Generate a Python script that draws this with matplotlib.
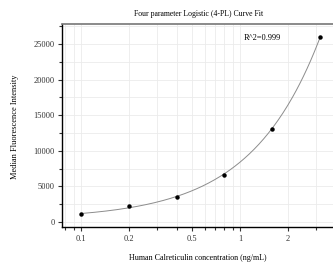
import numpy as np
import matplotlib
matplotlib.use("Agg")
import matplotlib.pyplot as plt
from matplotlib.ticker import FixedLocator, NullFormatter, FixedFormatter

plt.rcParams['font.family'] = ['Liberation Serif', 'DejaVu Serif']

conc = [0.1, 0.2, 0.4, 0.8, 1.6, 3.2]
mfi = [1120, 2250, 3500, 6600, 13100, 26000]

# 4-PL parameters
A_MIN = 400.0
B_SLOPE = 1.0
C_EC50 = 5000.0
D_MAX = 40000400.0

x_major = [0.1, 0.2, 0.5, 1, 2]
x_major_labels = ["0.1", "0.2", "0.5", "1", "2"]
x_minor = [0.08, 0.09, 0.3, 0.4, 0.6, 0.7, 0.8, 0.9, 3]
y_major = [0, 5000, 10000, 15000, 20000, 25000]
y_minor = [2500, 7500, 12500, 17500, 22500, 27500]

fig = plt.figure(figsize=(3.33, 2.70), dpi=100)
ax = fig.add_axes([0.186, 0.159, 0.814, 0.752])

xs = np.logspace(np.log10(conc[0]), np.log10(conc[-1]), 200)
ys = D_MAX + (A_MIN - D_MAX) / (1 + (xs / C_EC50) ** B_SLOPE)
ax.plot(xs, ys, color="#8c8c8c", lw=0.7, zorder=2)
ax.plot(conc, mfi, "o", color="black", ms=2.2, zorder=3)

ax.set_xscale("log")
ax.set_xlim(0.076, 3.85)
ax.set_ylim(-700, 27800)

ax.xaxis.set_major_locator(FixedLocator(x_major))
ax.xaxis.set_major_formatter(FixedFormatter(x_major_labels))
ax.xaxis.set_minor_locator(FixedLocator(x_minor))
ax.xaxis.set_minor_formatter(NullFormatter())
ax.yaxis.set_major_locator(FixedLocator(y_major))
ax.yaxis.set_minor_locator(FixedLocator(y_minor))

ax.grid(True, which="both", color="#ebebeb", lw=0.6, zorder=0)
ax.set_axisbelow(True)

ax.tick_params(which="both", direction="out", labelsize=6, width=0.8,
               color="#333333", labelcolor="#333333")
ax.tick_params(which="major", length=3, pad=2)
ax.tick_params(which="minor", length=2.5)
ax.tick_params(axis="x", which="major", pad=3)

for s in ["left", "bottom"]:
    ax.spines[s].set_color("black")
    ax.spines[s].set_linewidth(1.0)
ax.spines["top"].set_color("#777777")
ax.spines["top"].set_linewidth(1.2)
ax.spines["right"].set_visible(False)

ax.text(1.06, 25840, "R^2=0.999", fontsize=6, va="center", ha="left")

fig.text(0.595, 0.948, "Four parameter Logistic (4-PL) Curve Fit", fontsize=5.6, ha="center", va="center")
fig.text(0.595, 0.045, "Human Calreticulin concentration (ng/mL)", fontsize=5.8, ha="center", va="center")
fig.text(0.045, 0.53, "Median Fluorescence Intensity", fontsize=6, ha="center", va="center", rotation=90)

fig.savefig("out.png", dpi=100)
